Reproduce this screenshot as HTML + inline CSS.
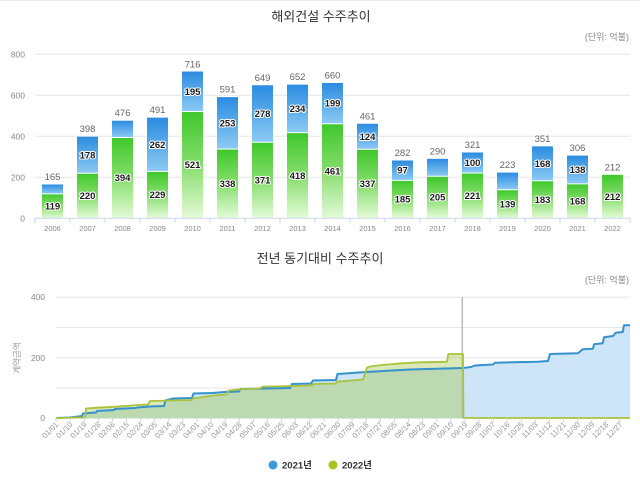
<!DOCTYPE html>
<html><head><meta charset="utf-8"><style>
html,body{margin:0;padding:0;background:#fff;}
svg{display:block;font-family:"Liberation Sans","Noto Sans CJK KR",sans-serif;}
.yl{font-size:8.5px;fill:#888;}
.xl{font-size:7.5px;fill:#888;}
.tot{font-size:9.5px;fill:#666;text-anchor:middle;}
.in{font-size:9.5px;font-weight:bold;fill:#1a1a1a;text-anchor:middle;stroke:#fff;stroke-width:2px;paint-order:stroke;stroke-linejoin:round;}
.dl{font-size:7.8px;fill:#999;text-anchor:end;}
</style></head><body>
<svg width="640" height="484" viewBox="0 0 640 484" xmlns="http://www.w3.org/2000/svg">
<defs>
<linearGradient id="gb" x1="0" y1="0" x2="0" y2="1"><stop offset="0" stop-color="#2b8ce0"/><stop offset="1" stop-color="#8ccaf3"/></linearGradient>
<linearGradient id="gg" x1="0" y1="0" x2="0" y2="1"><stop offset="0" stop-color="#3ec82b"/><stop offset="0.5" stop-color="#86dd6c"/><stop offset="1" stop-color="#e4fbd8"/></linearGradient>
</defs>
<line x1="0" y1="0.5" x2="640" y2="0.5" stroke="#eee"/>
<!-- TOP CHART -->
<text x="321" y="21" font-size="13" fill="#333" text-anchor="middle">해외건설 수주추이</text>
<text x="629" y="40" font-size="9" fill="#888" text-anchor="end">(단위: 억불)</text>
<g stroke="#e6e6e6" stroke-width="1">
<line x1="35" y1="54.3" x2="630" y2="54.3"/>
<line x1="35" y1="95.3" x2="630" y2="95.3"/>
<line x1="35" y1="136.3" x2="630" y2="136.3"/>
<line x1="35" y1="177.3" x2="630" y2="177.3"/>
</g>
<g class="yl" text-anchor="end">
<text x="25" y="57.3">800</text>
<text x="25" y="98.3">600</text>
<text x="25" y="139.3">400</text>
<text x="25" y="180.3">200</text>
<text x="25" y="221.3">0</text>
</g>
<!-- bars -->
<g>
<rect x="42" y="193.9" width="21" height="24.4" fill="url(#gg)"/><rect x="42" y="184.47" width="21" height="9.43" fill="url(#gb)"/>
<rect x="77" y="173.2" width="21" height="45.1" fill="url(#gg)"/><rect x="77" y="136.71" width="21" height="36.49" fill="url(#gb)"/>
<rect x="112" y="137.53" width="21" height="80.77" fill="url(#gg)"/><rect x="112" y="120.72" width="21" height="16.81" fill="url(#gb)"/>
<rect x="147" y="171.35" width="21" height="46.95" fill="url(#gg)"/><rect x="147" y="117.64" width="21" height="53.71" fill="url(#gb)"/>
<rect x="182" y="111.49" width="21" height="106.81" fill="url(#gg)"/><rect x="182" y="71.51" width="21" height="39.98" fill="url(#gb)"/>
<rect x="217" y="149.01" width="21" height="69.29" fill="url(#gg)"/><rect x="217" y="97.14" width="21" height="51.87" fill="url(#gb)"/>
<rect x="252" y="142.24" width="21" height="76.06" fill="url(#gg)"/><rect x="252" y="85.25" width="21" height="56.99" fill="url(#gb)"/>
<rect x="287" y="132.61" width="21" height="85.69" fill="url(#gg)"/><rect x="287" y="84.64" width="21" height="47.97" fill="url(#gb)"/>
<rect x="322" y="123.79" width="21" height="94.51" fill="url(#gg)"/><rect x="322" y="82.99" width="21" height="40.8" fill="url(#gb)"/>
<rect x="357" y="149.21" width="21" height="69.09" fill="url(#gg)"/><rect x="357" y="123.79" width="21" height="25.42" fill="url(#gb)"/>
<rect x="392" y="180.37" width="21" height="37.93" fill="url(#gg)"/><rect x="392" y="160.48" width="21" height="19.89" fill="url(#gb)"/>
<rect x="427" y="176.27" width="21" height="42.03" fill="url(#gg)"/><rect x="427" y="158.84" width="21" height="17.43" fill="url(#gb)"/>
<rect x="462" y="172.99" width="21" height="45.31" fill="url(#gg)"/><rect x="462" y="152.49" width="21" height="20.5" fill="url(#gb)"/>
<rect x="497" y="189.8" width="21" height="28.5" fill="url(#gg)"/><rect x="497" y="172.58" width="21" height="17.22" fill="url(#gb)"/>
<rect x="532" y="180.78" width="21" height="37.52" fill="url(#gg)"/><rect x="532" y="146.34" width="21" height="34.44" fill="url(#gb)"/>
<rect x="567" y="183.86" width="21" height="34.44" fill="url(#gg)"/><rect x="567" y="155.57" width="21" height="28.29" fill="url(#gb)"/>
<rect x="602" y="174.84" width="21" height="43.46" fill="url(#gg)"/>
</g>
<g stroke="#fff" stroke-width="1">
<line x1="42" y1="193.9" x2="63" y2="193.9"/><line x1="77" y1="173.2" x2="98" y2="173.2"/><line x1="112" y1="137.53" x2="133" y2="137.53"/><line x1="147" y1="171.35" x2="168" y2="171.35"/><line x1="182" y1="111.49" x2="203" y2="111.49"/><line x1="217" y1="149.01" x2="238" y2="149.01"/><line x1="252" y1="142.24" x2="273" y2="142.24"/><line x1="287" y1="132.61" x2="308" y2="132.61"/><line x1="322" y1="123.79" x2="343" y2="123.79"/><line x1="357" y1="149.21" x2="378" y2="149.21"/><line x1="392" y1="180.37" x2="413" y2="180.37"/><line x1="427" y1="176.27" x2="448" y2="176.27"/><line x1="462" y1="172.99" x2="483" y2="172.99"/><line x1="497" y1="189.8" x2="518" y2="189.8"/><line x1="532" y1="180.78" x2="553" y2="180.78"/><line x1="567" y1="183.86" x2="588" y2="183.86"/>
</g>
<!-- axis -->
<line x1="35" y1="218.3" x2="630" y2="218.3" stroke="#ccd6eb" stroke-width="1"/>
<g stroke="#ccd6eb" stroke-width="1">
<line x1="35" y1="218" x2="35" y2="223"/><line x1="70" y1="218" x2="70" y2="223"/><line x1="105" y1="218" x2="105" y2="223"/><line x1="140" y1="218" x2="140" y2="223"/><line x1="175" y1="218" x2="175" y2="223"/><line x1="210" y1="218" x2="210" y2="223"/><line x1="245" y1="218" x2="245" y2="223"/><line x1="280" y1="218" x2="280" y2="223"/><line x1="315" y1="218" x2="315" y2="223"/><line x1="350" y1="218" x2="350" y2="223"/><line x1="385" y1="218" x2="385" y2="223"/><line x1="420" y1="218" x2="420" y2="223"/><line x1="455" y1="218" x2="455" y2="223"/><line x1="490" y1="218" x2="490" y2="223"/><line x1="525" y1="218" x2="525" y2="223"/><line x1="560" y1="218" x2="560" y2="223"/><line x1="595" y1="218" x2="595" y2="223"/><line x1="630" y1="218" x2="630" y2="223"/>
</g>
<g class="xl" text-anchor="middle">
<text x="52.5" y="231">2006</text><text x="87.5" y="231">2007</text><text x="122.5" y="231">2008</text><text x="157.5" y="231">2009</text><text x="192.5" y="231">2010</text><text x="227.5" y="231">2011</text><text x="262.5" y="231">2012</text><text x="297.5" y="231">2013</text><text x="332.5" y="231">2014</text><text x="367.5" y="231">2015</text><text x="402.5" y="231">2016</text><text x="437.5" y="231">2017</text><text x="472.5" y="231">2018</text><text x="507.5" y="231">2019</text><text x="542.5" y="231">2020</text><text x="577.5" y="231">2021</text><text x="612.5" y="231">2022</text>
</g>
<!-- totals -->
<g class="tot">
<text x="52.5" y="180">165</text><text x="87.5" y="132.2">398</text><text x="122.5" y="116.2">476</text><text x="157.5" y="113.1">491</text><text x="192.5" y="67.3">716</text><text x="227.5" y="92.6">591</text><text x="262.5" y="80.8">649</text><text x="297.5" y="80.1">652</text><text x="332.5" y="78.5">660</text><text x="367.5" y="119.3">461</text><text x="402.5" y="156">282</text><text x="437.5" y="154.3">290</text><text x="472.5" y="148">321</text><text x="507.5" y="168.1">223</text><text x="542.5" y="141.8">351</text><text x="577.5" y="151.1">306</text><text x="612.5" y="170.3">212</text>
</g>
<g class="in">
<text x="52.5" y="209.5">119</text><text x="87.5" y="199">220</text><text x="122.5" y="181.2">394</text><text x="157.5" y="198.1">229</text><text x="192.5" y="168.2">521</text><text x="227.5" y="187">338</text><text x="262.5" y="183.6">371</text><text x="297.5" y="178.8">418</text><text x="332.5" y="174.3">461</text><text x="367.5" y="187.1">337</text><text x="402.5" y="202.6">185</text><text x="437.5" y="200.6">205</text><text x="472.5" y="198.9">221</text><text x="507.5" y="207.4">139</text><text x="542.5" y="202.8">183</text><text x="577.5" y="204.4">168</text><text x="612.5" y="199.9">212</text>
<text x="87.5" y="158.3">178</text><text x="157.5" y="147.8">262</text><text x="192.5" y="94.8">195</text><text x="227.5" y="126.4">253</text><text x="262.5" y="117">278</text><text x="297.5" y="111.9">234</text><text x="332.5" y="106.7">199</text><text x="367.5" y="139.8">124</text><text x="402.5" y="173.7">97</text><text x="472.5" y="166">100</text><text x="542.5" y="166.9">168</text><text x="577.5" y="173">138</text>
</g>

<!-- BOTTOM CHART -->
<text x="320" y="263" font-size="13" fill="#333" text-anchor="middle">전년 동기대비 수주추이</text>
<text x="629" y="283" font-size="9" fill="#888" text-anchor="end">(단위: 억불)</text>
<g stroke="#e6e6e6" stroke-width="1">
<line x1="56" y1="297.3" x2="630" y2="297.3"/>
<line x1="56" y1="327.5" x2="630" y2="327.5"/>
<line x1="56" y1="357.8" x2="630" y2="357.8"/>
<line x1="56" y1="388" x2="630" y2="388"/>
<line x1="56" y1="418.3" x2="630" y2="418.3"/>
</g>
<g class="yl" text-anchor="end">
<text x="45" y="300">400</text>
<text x="45" y="361">200</text>
<text x="45" y="421">0</text>
</g>
<text transform="translate(20,358) rotate(-90)" font-size="8.5" fill="#999" text-anchor="middle">계약금액</text>

<!-- blue area -->
<path d="M56,418 L70,417.5 L82,416 L83,413.5 L96,412.5 L97,411 L114,410 L115,409 L136,408 L137,407.5 L150,406.5 L164,406 L165.5,400.5 L173,398.5 L192,398 L193.5,393.5 L212,393 L225,392 L239,391.5 L240.5,389 L290,388 L292,384 L311,383.5 L313,380.5 L336,380 L337.5,374 L366,372 L410,369.5 L463,368 L471,367 L475,365.5 L493,364.5 L495,362.7 L538,361.7 L548,361 L550,354 L578,353.3 L582.7,349.3 L593,348.7 L594,344.3 L602.7,343.3 L604,337.3 L613,336 L615.7,332.7 L622.7,332 L624,325.3 L630,325.3 L630,418.3 L56,418.3 Z" fill="#cde5f6"/>
<!-- green area -->
<path d="M56,418 L83,417.5 L85,417 L86,408.5 L97,407.7 L117,406.7 L137,405 L148,404.5 L150,401 L192,400 L193,398.5 L213,395.5 L227,394.5 L228.5,390.5 L240,389.3 L260,388.3 L263,386.7 L293,386 L312,385.5 L313,384 L336,383.5 L337,381.7 L350,380.7 L363,379.5 L367,367.5 L370,366.5 L382,365 L402,363.3 L420,362.3 L447,361.7 L448.3,354 L463,354 L463.5,418.3 L56,418.3 Z" fill="rgba(165,200,80,0.42)"/>
<!-- vertical marker -->
<line x1="462.3" y1="297" x2="462.3" y2="418" stroke="#bbb" stroke-width="1.5"/>
<!-- blue line -->
<path d="M56,418 L70,417.5 L82,416 L83,413.5 L96,412.5 L97,411 L114,410 L115,409 L136,408 L137,407.5 L150,406.5 L164,406 L165.5,400.5 L173,398.5 L192,398 L193.5,393.5 L212,393 L225,392 L239,391.5 L240.5,389 L290,388 L292,384 L311,383.5 L313,380.5 L336,380 L337.5,374 L366,372 L410,369.5 L463,368 L471,367 L475,365.5 L493,364.5 L495,362.7 L538,361.7 L548,361 L550,354 L578,353.3 L582.7,349.3 L593,348.7 L594,344.3 L602.7,343.3 L604,337.3 L613,336 L615.7,332.7 L622.7,332 L624,325.3 L630,325.3" fill="none" stroke="#3592cc" stroke-width="2" stroke-linejoin="round"/>
<!-- green line -->
<path d="M56,418 L83,417.5 L85,417 L86,408.5 L97,407.7 L117,406.7 L137,405 L148,404.5 L150,401 L192,400 L193,398.5 L213,395.5 L227,394.5 L228.5,390.5 L240,389.3 L260,388.3 L263,386.7 L293,386 L312,385.5 L313,384 L336,383.5 L337,381.7 L350,380.7 L363,379.5 L367,367.5 L370,366.5 L382,365 L402,363.3 L420,362.3 L447,361.7 L448.3,354 L463,354 L463.5,418 L630,418" fill="none" stroke="#a9c43c" stroke-width="1.8" stroke-linejoin="round"/>

<!-- x ticks -->
<g stroke="#ccd6eb" stroke-width="1">
<line x1="56" y1="418" x2="56" y2="422"/><line x1="70.1" y1="418" x2="70.1" y2="422"/><line x1="84.2" y1="418" x2="84.2" y2="422"/><line x1="98.3" y1="418" x2="98.3" y2="422"/><line x1="112.4" y1="418" x2="112.4" y2="422"/><line x1="126.5" y1="418" x2="126.5" y2="422"/><line x1="140.6" y1="418" x2="140.6" y2="422"/><line x1="154.7" y1="418" x2="154.7" y2="422"/><line x1="168.8" y1="418" x2="168.8" y2="422"/><line x1="182.9" y1="418" x2="182.9" y2="422"/><line x1="197" y1="418" x2="197" y2="422"/><line x1="211.1" y1="418" x2="211.1" y2="422"/><line x1="225.2" y1="418" x2="225.2" y2="422"/><line x1="239.3" y1="418" x2="239.3" y2="422"/><line x1="253.4" y1="418" x2="253.4" y2="422"/><line x1="267.5" y1="418" x2="267.5" y2="422"/><line x1="281.6" y1="418" x2="281.6" y2="422"/><line x1="295.7" y1="418" x2="295.7" y2="422"/><line x1="309.8" y1="418" x2="309.8" y2="422"/><line x1="323.9" y1="418" x2="323.9" y2="422"/><line x1="338" y1="418" x2="338" y2="422"/><line x1="352.1" y1="418" x2="352.1" y2="422"/><line x1="366.2" y1="418" x2="366.2" y2="422"/><line x1="380.3" y1="418" x2="380.3" y2="422"/><line x1="394.4" y1="418" x2="394.4" y2="422"/><line x1="408.5" y1="418" x2="408.5" y2="422"/><line x1="422.6" y1="418" x2="422.6" y2="422"/><line x1="436.7" y1="418" x2="436.7" y2="422"/><line x1="450.8" y1="418" x2="450.8" y2="422"/><line x1="464.9" y1="418" x2="464.9" y2="422"/><line x1="479" y1="418" x2="479" y2="422"/><line x1="493.1" y1="418" x2="493.1" y2="422"/><line x1="507.2" y1="418" x2="507.2" y2="422"/><line x1="521.3" y1="418" x2="521.3" y2="422"/><line x1="535.4" y1="418" x2="535.4" y2="422"/><line x1="549.5" y1="418" x2="549.5" y2="422"/><line x1="563.6" y1="418" x2="563.6" y2="422"/><line x1="577.7" y1="418" x2="577.7" y2="422"/><line x1="591.8" y1="418" x2="591.8" y2="422"/><line x1="605.9" y1="418" x2="605.9" y2="422"/><line x1="620" y1="418" x2="620" y2="422"/>
</g>
<!-- x date labels -->
<g class="dl">
<text transform="translate(59,425) rotate(-45)">01/01</text>
<text transform="translate(73.1,425) rotate(-45)">01/10</text>
<text transform="translate(87.2,425) rotate(-45)">01/19</text>
<text transform="translate(101.3,425) rotate(-45)">01/28</text>
<text transform="translate(115.4,425) rotate(-45)">02/06</text>
<text transform="translate(129.5,425) rotate(-45)">02/15</text>
<text transform="translate(143.6,425) rotate(-45)">02/24</text>
<text transform="translate(157.7,425) rotate(-45)">03/05</text>
<text transform="translate(171.8,425) rotate(-45)">03/14</text>
<text transform="translate(185.9,425) rotate(-45)">03/23</text>
<text transform="translate(200,425) rotate(-45)">04/01</text>
<text transform="translate(214.1,425) rotate(-45)">04/10</text>
<text transform="translate(228.2,425) rotate(-45)">04/19</text>
<text transform="translate(242.3,425) rotate(-45)">04/28</text>
<text transform="translate(256.4,425) rotate(-45)">05/07</text>
<text transform="translate(270.5,425) rotate(-45)">05/16</text>
<text transform="translate(284.6,425) rotate(-45)">05/25</text>
<text transform="translate(298.7,425) rotate(-45)">06/03</text>
<text transform="translate(312.8,425) rotate(-45)">06/12</text>
<text transform="translate(326.9,425) rotate(-45)">06/21</text>
<text transform="translate(341,425) rotate(-45)">06/30</text>
<text transform="translate(355.1,425) rotate(-45)">07/09</text>
<text transform="translate(369.2,425) rotate(-45)">07/18</text>
<text transform="translate(383.3,425) rotate(-45)">07/27</text>
<text transform="translate(397.4,425) rotate(-45)">08/05</text>
<text transform="translate(411.5,425) rotate(-45)">08/14</text>
<text transform="translate(425.6,425) rotate(-45)">08/23</text>
<text transform="translate(439.7,425) rotate(-45)">09/01</text>
<text transform="translate(453.8,425) rotate(-45)">09/10</text>
<text transform="translate(467.9,425) rotate(-45)">09/19</text>
<text transform="translate(482,425) rotate(-45)">09/28</text>
<text transform="translate(496.1,425) rotate(-45)">10/07</text>
<text transform="translate(510.2,425) rotate(-45)">10/16</text>
<text transform="translate(524.3,425) rotate(-45)">10/25</text>
<text transform="translate(538.4,425) rotate(-45)">11/03</text>
<text transform="translate(552.5,425) rotate(-45)">11/12</text>
<text transform="translate(566.6,425) rotate(-45)">11/21</text>
<text transform="translate(580.7,425) rotate(-45)">11/30</text>
<text transform="translate(594.8,425) rotate(-45)">12/09</text>
<text transform="translate(608.9,425) rotate(-45)">12/18</text>
<text transform="translate(623,425) rotate(-45)">12/27</text>
</g>
<!-- legend -->
<circle cx="273" cy="465" r="4.5" fill="#3b9bd6"/>
<text x="282" y="468.5" font-size="9.5" font-weight="bold" fill="#333">2021년</text>
<circle cx="333" cy="465" r="4.5" fill="#a6c31e"/>
<text x="342" y="468.5" font-size="9.5" font-weight="bold" fill="#333">2022년</text>
</svg>
</body></html>
